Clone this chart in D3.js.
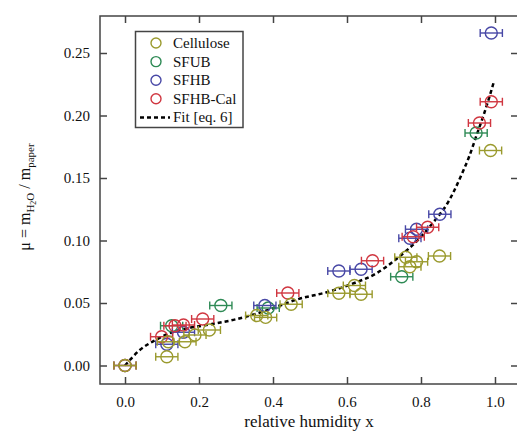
<!DOCTYPE html>
<html>
<head>
<meta charset="utf-8">
<script src="https://cdn.jsdelivr.net/npm/d3@7"></script>
<style>
  body { margin: 0; background: #fff; }
  svg text { font-family: 'Liberation Serif', 'Times New Roman', Times, 'DejaVu Serif', serif !important; }
</style>
</head>
<body>
<div id="chart"></div>
<script>
// Data
const seriesNames = ['Cellulose', 'SFUB', 'SFHB', 'SFHB-Cal'];
const seriesColors = ['#9a9a2e', '#2e8a55', '#4848a6', '#d03640'];

const celluloseX = [0, 0.113, 0.117, 0.162, 0.189, 0.228, 0.356, 0.38, 0.449, 0.578, 0.62, 0.638, 0.759, 0.77, 0.788, 0.85, 0.988];
const celluloseY = [0, 0.007, 0.019, 0.019, 0.0244, 0.0284, 0.040, 0.0385, 0.049, 0.0578, 0.064, 0.057, 0.0866, 0.079, 0.083, 0.0876, 0.172];

const sfubX = [0.126, 0.259, 0.387, 0.748, 0.949];
const sfubY = [0.0318, 0.048, 0.046, 0.071, 0.186];

const sfhbX = [0, 0.113, 0.158, 0.378, 0.578, 0.638, 0.77, 0.788, 0.851, 0.99];
const sfhbY = [0, 0.017, 0.0266, 0.048, 0.0756, 0.077, 0.1018, 0.109, 0.121, 0.266];

const sfhbCalX = [0, 0.099, 0.135, 0.158, 0.21, 0.44, 0.669, 0.779, 0.818, 0.958, 0.99];
const sfhbCalY = [0, 0.023, 0.0318, 0.0324, 0.0372, 0.058, 0.0838, 0.103, 0.1106, 0.194, 0.211];

const xErr = 0.03;

// fit [eq. 6]
const fitX = [0, 0.04, 0.08, 0.12, 0.17, 0.22, 0.30, 0.40, 0.46, 0.55, 0.62, 0.68, 0.73, 0.80, 0.84, 0.87, 0.89, 0.91, 0.93, 0.95, 0.97, 0.985, 0.998];
const fitY = [0, 0.0124, 0.020, 0.0258, 0.0298, 0.0324, 0.037, 0.0458, 0.0524, 0.059, 0.066, 0.0738, 0.0844, 0.103, 0.117, 0.129, 0.140, 0.153, 0.167, 0.184, 0.201, 0.215, 0.228];

const xTicks = [0, 0.2, 0.4, 0.6, 0.8, 1.0];
const yTicks = [0, 0.05, 0.10, 0.15, 0.20, 0.25];

const width = 517;
const height = 432;
const plot = { l: 100, r: 518, t: 16, b: 384 };
const serif = "'Liberation Serif', 'Times New Roman', Times, 'DejaVu Serif', serif";

const xScale = d3.scaleLinear([-0.0676, 1.0622], [plot.l, plot.r]);
const yScale = d3.scaleLinear([-0.0148, 0.2796], [plot.b, plot.t]);

const svg = d3
  .select('#chart')
  .append('svg')
  .attr('width', width)
  .attr('height', height)
  .attr('font-family', serif);

svg.append('rect').attr('width', width).attr('height', height).attr('fill', '#fff');

const axisColor = '#444';
const tickLen = 7;

// bottom axis with labels
const xAxis = svg
  .append('g')
  .attr('transform', `translate(0, ${plot.b})`)
  .call(d3.axisBottom(xScale).tickValues(xTicks).tickFormat(d3.format('.1f'))
    .tickSizeInner(-tickLen).tickSizeOuter(0).tickPadding(12));

// top axis, ticks only
const xTop = svg
  .append('g')
  .attr('transform', `translate(0, ${plot.t})`)
  .call(d3.axisTop(xScale).tickValues(xTicks).tickFormat('')
    .tickSizeInner(-tickLen).tickSizeOuter(0));

// left axis with labels
const yAxis = svg
  .append('g')
  .attr('transform', `translate(${plot.l}, 0)`)
  .call(d3.axisLeft(yScale).tickValues(yTicks).tickFormat(d3.format('.2f'))
    .tickSizeInner(-tickLen).tickSizeOuter(0).tickPadding(10));

// right axis, ticks only
const yRight = svg
  .append('g')
  .attr('transform', `translate(${plot.r}, 0)`)
  .call(d3.axisRight(yScale).tickValues(yTicks).tickFormat('')
    .tickSizeInner(-tickLen).tickSizeOuter(0));

[xAxis, xTop, yAxis, yRight].forEach((g) => {
  g.attr('font-family', serif).attr('font-size', 15);
  g.select('.domain').remove();
  g.selectAll('line').attr('stroke', axisColor).attr('stroke-width', 1.5);
  g.selectAll('text').attr('fill', '#111');
});

// frame
svg
  .append('rect')
  .attr('x', plot.l)
  .attr('y', plot.t)
  .attr('width', plot.r - plot.l)
  .attr('height', plot.b - plot.t)
  .attr('fill', 'none')
  .attr('stroke', axisColor)
  .attr('stroke-width', 1.5);

// fit curve
const fitData = fitX.map((x, i) => ({ x, y: fitY[i] }));
const line = d3
  .line()
  .x((d) => xScale(d.x))
  .y((d) => yScale(d.y))
  .curve(d3.curveMonotoneX);

svg
  .append('path')
  .datum(fitData)
  .attr('d', line)
  .attr('fill', 'none')
  .attr('stroke', '#000')
  .attr('stroke-width', 2.5)
  .attr('stroke-dasharray', '4,3');

// points with horizontal error bars
const allX = [celluloseX, sfubX, sfhbX, sfhbCalX];
const allY = [celluloseY, sfubY, sfhbY, sfhbCalY];
const drawOrder = [1, 2, 3, 0];
const capH = 4;

drawOrder.forEach((s) => {
  const pts = allX[s].map((x, i) => ({ x, y: allY[s][i] }));
  const color = seriesColors[s];
  const g = svg.append('g').attr('stroke', color).attr('fill', 'none').attr('stroke-width', 1.4);

  const bars = g.selectAll('g.pt').data(pts).join('g').attr('class', 'pt');

  bars
    .append('line')
    .attr('x1', (d) => xScale(d.x - xErr))
    .attr('x2', (d) => xScale(d.x + xErr))
    .attr('y1', (d) => yScale(d.y))
    .attr('y2', (d) => yScale(d.y));

  bars
    .append('line')
    .attr('x1', (d) => xScale(d.x - xErr))
    .attr('x2', (d) => xScale(d.x - xErr))
    .attr('y1', (d) => yScale(d.y) - capH)
    .attr('y2', (d) => yScale(d.y) + capH);

  bars
    .append('line')
    .attr('x1', (d) => xScale(d.x + xErr))
    .attr('x2', (d) => xScale(d.x + xErr))
    .attr('y1', (d) => yScale(d.y) - capH)
    .attr('y2', (d) => yScale(d.y) + capH);

  bars
    .append('circle')
    .attr('cx', (d) => xScale(d.x))
    .attr('cy', (d) => yScale(d.y))
    .attr('r', 6)
    .attr('fill', 'none');
});

// legend
const legend = svg.append('g').attr('font-size', 15).attr('fill', '#111');
legend
  .append('rect')
  .attr('x', 135.5)
  .attr('y', 31.5)
  .attr('width', 107.5)
  .attr('height', 96)
  .attr('fill', '#fff')
  .attr('stroke', axisColor)
  .attr('stroke-width', 1.5);

const rowY = (i) => 43 + i * 18.6;

seriesNames.forEach((name, i) => {
  legend
    .append('circle')
    .attr('cx', 156)
    .attr('cy', rowY(i))
    .attr('r', 5)
    .attr('fill', 'none')
    .attr('stroke', seriesColors[i])
    .attr('stroke-width', 1.4);
  legend
    .append('text')
    .attr('x', 173)
    .attr('y', rowY(i) + 5)
    .text(name);
});

legend
  .append('line')
  .attr('x1', 140)
  .attr('x2', 170)
  .attr('y1', rowY(4))
  .attr('y2', rowY(4))
  .attr('stroke', '#000')
  .attr('stroke-width', 2.5)
  .attr('stroke-dasharray', '4,3');

legend
  .append('text')
  .attr('x', 173)
  .attr('y', rowY(4) + 5)
  .text('Fit [eq. 6]');

// x-axis name
svg
  .append('text')
  .attr('x', 309)
  .attr('y', 427)
  .attr('text-anchor', 'middle')
  .attr('font-size', 17)
  .attr('fill', '#111')
  .text('relative humidity x');

// y-axis name with subscripts
const yTitle = svg
  .append('text')
  .attr('transform', 'translate(30, 197) rotate(-90)')
  .attr('text-anchor', 'middle')
  .attr('font-size', 16)
  .attr('fill', '#111');

yTitle.append('tspan').text('\u03bc = m');
yTitle.append('tspan').attr('dy', 4).attr('font-size', 11).text('H');
yTitle.append('tspan').attr('dy', 2).attr('font-size', 8).text('2');
yTitle.append('tspan').attr('dy', -2).attr('font-size', 11).text('O');
yTitle.append('tspan').attr('dy', -4).text(' / m');
yTitle.append('tspan').attr('dy', 4).attr('font-size', 11).text('paper');
</script>
</body>
</html>
